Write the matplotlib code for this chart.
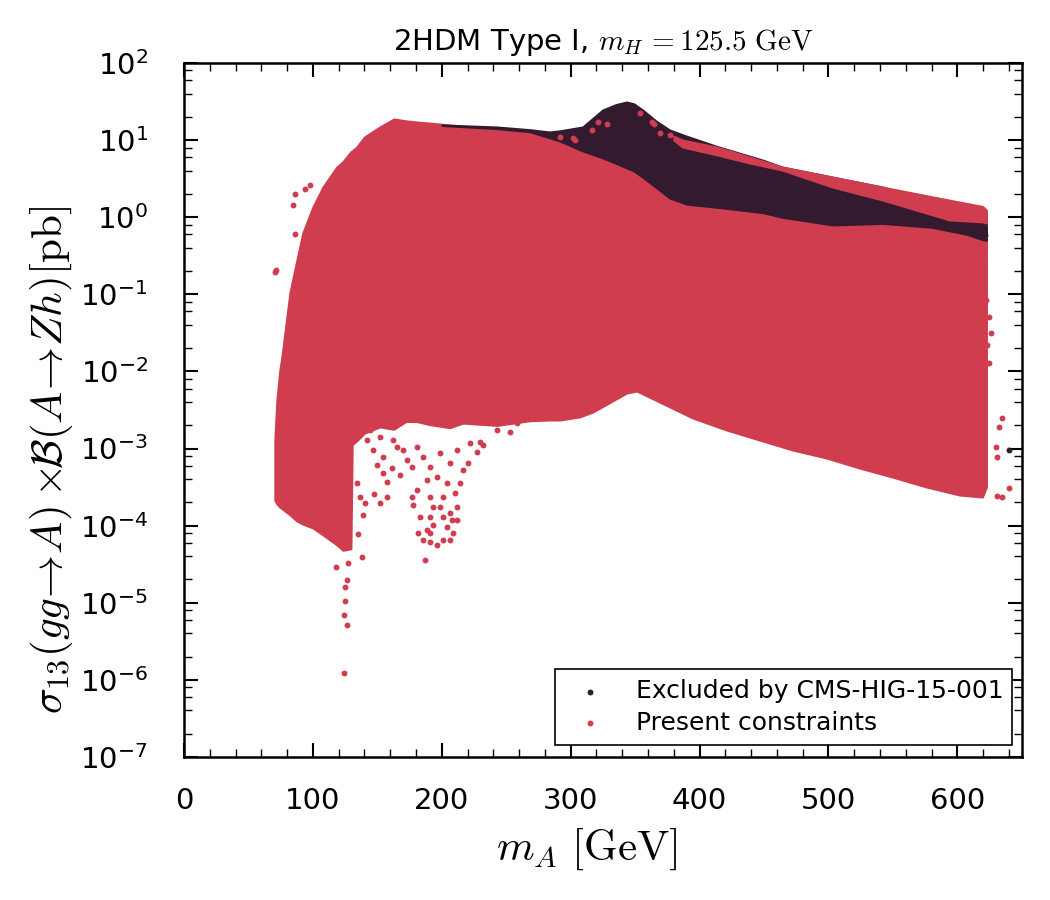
import numpy as np
import matplotlib
matplotlib.use("Agg")
import matplotlib.pyplot as plt
from matplotlib.ticker import LogLocator, MultipleLocator, NullFormatter

plt.rcParams['font.family'] = 'DejaVu Sans'
plt.rcParams['mathtext.fontset'] = 'cm'
plt.rcParams['axes.unicode_minus'] = False

dark_col = '#331a2f'
red_col = '#cf3d4e'

# envelopes of the dense scan regions, y values given as log10(sigma x BR / pb)
# red "present constraints" region
red_x = [70.5, 72.1, 74.4, 76.0, 82.2, 87.6, 92.2, 100.0, 107.8, 118.6, 123.3, 129.5, 130.5,
         134.0, 140.0, 151.9, 162.8, 172.0, 180.6, 190.7, 206.2, 216.3, 242.6, 268.2, 283.7,
         291.5, 307.0, 317.1, 343.4, 351.2, 369.0, 394.6, 420.9, 446.5, 472.1, 498.4,
         524.0, 549.6, 576.0, 601.6, 619.4, 622.5]
red_hi = [-2.89, -2.37, -1.98, -1.81, -0.98, -0.555, -0.205, 0.132, 0.392, 0.651, 0.72, 0.85,
          0.86, 0.91, 1.04, 1.17, 1.274, 1.25, 1.235, 1.22, 1.196, 1.18, 1.157, 1.118, 1.03,
          0.99, 0.89, 0.82, 0.64, 0.58, 0.353, 0.19, 0.12, 0.06, -0.01, -0.09,
          -0.09, -0.08, -0.12, -0.20, -0.29, -0.30]
red_lo = [-3.67, -3.72, -3.76, -3.78, -3.86, -3.94, -3.98, -4.03, -4.12, -4.25, -4.32, -4.30,
          -2.95, -2.90, -2.80, -2.72, -2.75, -2.65, -2.65, -2.69, -2.73, -2.67, -2.70, -2.64,
          -2.63, -2.63, -2.59, -2.527, -2.28, -2.254, -2.397, -2.604, -2.76, -2.89, -3.019,
          -3.123, -3.253, -3.37, -3.499, -3.603, -3.629, -3.5]

# dark "excluded by CMS" band
dark_x = [200.0, 242.6, 268.2, 283.7, 291.5, 309.3, 324.8, 335.0, 343.4, 349.0, 355.8,
          366.0, 376.7, 390.0, 413.0, 449.0, 464.0, 503.0, 542.0, 580.0, 607.0, 619.4, 622.5]
dark_lo = [1.19, 1.15, 1.11, 1.03, 0.99, 0.86, 0.77, 0.70, 0.64, 0.60, 0.52,
           0.39, 0.25, 0.17, 0.13, 0.06, 0.00, -0.10, -0.08, -0.13, -0.22, -0.29, -0.30]
dark_hi = [1.196, 1.17, 1.135, 1.105, 1.12, 1.17, 1.39, 1.46, 1.494, 1.47, 1.39,
           1.25, 1.131, 1.05, 0.92, 0.74, 0.65, 0.52, 0.39, 0.21, 0.13, 0.10, 0.0]

# red points lying above the dark band
band_x = [380.0, 386.8, 413.0, 438.8, 464.0, 503.0, 542.0, 594.0, 619.4, 622.5]
band_lo = [1.0, 0.91, 0.81, 0.703, 0.612, 0.392, 0.223, -0.036, -0.06, -0.075]
band_hi = [1.05, 1.00, 0.911, 0.78, 0.65, 0.52, 0.39, 0.22, 0.14, 0.093]

# isolated red points
red_pts_x = [70.5, 71.2, 86.0, 84.5, 86.0, 93.8, 97.7,
             291.5, 301.6, 303.0, 316.3, 320.9, 327.9, 353.5, 362.8, 364.3, 369.0, 376.7,
             117.8, 127.1, 126.4, 124.8, 124.8, 124.0, 126.4, 124.0,
             134.9, 138.0, 138.8, 140.3, 147.3, 151.9, 157.4, 157.4, 149.6, 154.3, 161.2,
             167.4, 136.4, 134.1, 141.9, 144.2, 146.5, 151.9, 154.3, 162.0, 165.1,
             186.8, 181.4, 185.3, 190.7, 196.1, 200.8, 206.2, 208.5, 211.6, 203.9, 193.0,
             188.4, 182.9, 177.5, 176.7, 180.6, 190.7, 198.4, 206.2, 211.6, 210.1, 214.0,
             216.3, 220.2, 227.1, 231.8, 203.9, 196.1, 190.7, 185.3, 176.7, 172.9, 169.8,
             198.4, 211.6, 206.2, 180.6, 188.4, 200.8, 193.0, 190.7, 200.8, 207.8, 190.7,
             242.6, 252.7, 258.1, 229.5, 221.7,
             634.9, 632.6, 630.2, 631.0, 640.3, 634.9, 631.0,
             624.8, 623.3, 624.8, 626.4, 621.0, 619.4, 622.5]
red_pts_y = [-0.71, -0.69, -0.22, 0.158, 0.30, 0.366, 0.418,
             1.04, 1.027, 1.0, 1.131, 1.235, 1.209, 1.351, 1.235, 1.21, 1.092, 1.066,
             -4.537, -4.485, -4.706, -4.796, -4.978, -5.16, -5.289, -5.912,
             -4.109, -4.407, -3.862, -3.707, -3.59, -3.707, -3.629, -3.434, -3.214, -3.318, -3.253,
             -3.344, -3.629, -3.447, -2.89, -2.76, -3.019, -2.851, -3.11, -2.89, -2.981,
             -4.446, -4.096, -4.187, -4.213, -4.252, -4.187, -4.187, -4.096, -3.927, -4.018, -3.992,
             -4.057, -3.888, -3.733, -3.629, -3.538, -3.629, -3.759, -3.837, -3.759, -3.577, -3.447,
             -3.279, -3.188, -3.045, -2.955, -3.447, -3.37, -3.24, -3.11, -3.24, -3.149, -3.019,
             -3.058, -3.019, -3.188, -2.981, -3.409, -3.629, -3.759, -3.888, -3.888, -3.927, -4.096,
             -2.76, -2.786, -2.669, -2.916, -2.929,
             -2.604, -2.721, -2.981, -3.11, -3.512, -3.629, -3.616,
             -1.891, -1.657, -1.294, -1.502, -0.555, -0.815, -1.074]

# isolated dark points
dark_pts_x = [640.3, 620.9, 621.7]
dark_pts_y = [-3.019, -0.14, -0.23]

fig = plt.figure(figsize=(10.5, 9), dpi=100)
ax = fig.add_axes([0.1752, 0.159, 0.798, 0.771])

p = lambda v: np.power(10.0, np.array(v))

ax.fill_between(red_x, p(red_lo), p(red_hi), color=red_col, lw=1.5, zorder=1)
ax.fill_between(dark_x, p(dark_lo), p(dark_hi), color=dark_col, lw=1.5, zorder=2)
ax.fill_between(band_x, p(band_lo), p(band_hi), color=red_col, lw=1.5, zorder=3)

dsc = ax.scatter(dark_pts_x, p(dark_pts_y), s=18, color=dark_col, lw=0, zorder=4,
                 label='Excluded by CMS-HIG-15-001')
rsc = ax.scatter(red_pts_x, p(red_pts_y), s=18, color=red_col, lw=0, zorder=5,
                 label='Present constraints')

ax.set_xlim(0, 650)
ax.set_yscale('log')
ax.set_ylim(1e-7, 1e2)
ax.xaxis.set_major_locator(MultipleLocator(100))
ax.xaxis.set_minor_locator(MultipleLocator(20))
ax.yaxis.set_major_locator(LogLocator(base=10, numticks=20))
ax.yaxis.set_minor_locator(LogLocator(base=10, subs=(2, 4, 6, 8), numticks=20))
ax.yaxis.set_minor_formatter(NullFormatter())

ax.tick_params(which='both', direction='in', top=True, right=True, labelsize=21)
ax.tick_params(which='major', length=10, width=1.5)
ax.tick_params(which='minor', length=6, width=1.0)
ax.tick_params(axis='x', pad=22)
ax.tick_params(axis='y', pad=26)
for s in ax.spines.values():
    s.set_linewidth(1.8)

fig.text(0.575, 0.953, r'2HDM Type I, $m_H\,{=}125.5\ \mathrm{GeV}$', fontsize=21,
         ha='center', va='center')
fig.text(0.559, 0.056, r'$m_A\ [\mathrm{GeV}]$', fontsize=31, ha='center', va='center')
fig.text(0.0486, 0.489,
         r'$\sigma_{13}(gg\!\rightarrow\! A)\times\!\!\mathcal{B}(A\!\rightarrow\! Zh)[\mathrm{pb}]$',
         fontsize=31, rotation=90, ha='center', va='center')

leg = ax.legend(handles=[dsc, rsc], loc='lower left',
                bbox_to_anchor=(0.4427, 0.0173, 0.5453, 0.11), mode='expand',
                borderaxespad=0, fontsize=18, fancybox=False, edgecolor='black',
                framealpha=1, scatterpoints=1, handlelength=2.0, handletextpad=0.84,
                labelspacing=0.3, borderpad=0.4)
leg.get_frame().set_linewidth(1.2)

fig.savefig('out.png', dpi=100)
